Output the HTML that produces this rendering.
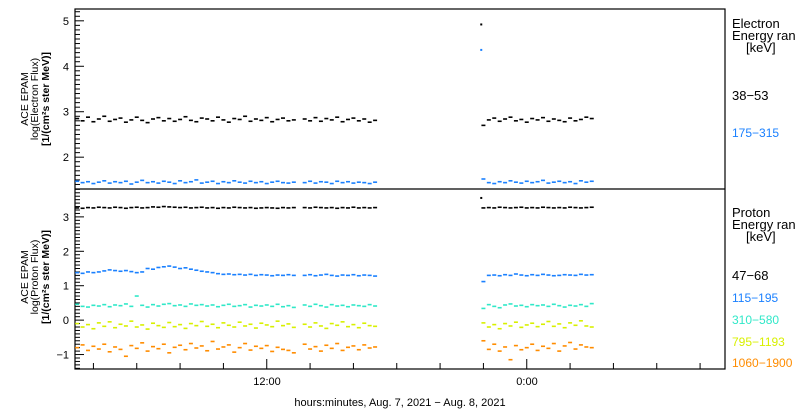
<!DOCTYPE html>
<html><head><meta charset="utf-8"><style>
body{margin:0;background:#fff;}
svg{display:block;font-family:"Liberation Sans",sans-serif;}
</style></head><body>
<svg id="chart" width="800" height="410" viewBox="0 0 800 410">
<g id="axes"></g><g id="marks"></g>
<g font-size="10.5" text-anchor="middle" transform="translate(44,99) rotate(-90)">
<text y="-16">ACE EPAM</text><text y="-6">log(Electron Flux)</text><text y="5" font-weight="bold">[1/(cm²s ster MeV)]</text></g>
<g font-size="10.5" text-anchor="middle" transform="translate(44,277) rotate(-90)">
<text y="-16">ACE EPAM</text><text y="-6">log(Proton Flux)</text><text y="5" font-weight="bold">[1/(cm²s ster MeV)]</text></g>
<g font-size="13">
<text x="732" y="28">Electron</text>
<text x="732" y="40">Energy ran</text>
<text x="746" y="52">[keV]</text>
<text x="732" y="100" fill="#000">38−53</text>
<text x="732" y="137" fill="#1a80ff" font-size="12">175−315</text>
<text x="732" y="217">Proton</text>
<text x="732" y="229">Energy ran</text>
<text x="746" y="241">[keV]</text>
<text x="732" y="280">47−68</text>
<text x="732" y="302" fill="#1a80ff" font-size="12">115−195</text>
<text x="732" y="324" fill="#30e8c8" font-size="12">310−580</text>
<text x="732" y="346" fill="#d8f000" font-size="12">795−1193</text>
<text x="732" y="367" fill="#ff8c00" font-size="12">1060−1900</text>
</g>
<text x="267" y="385" font-size="11" text-anchor="middle">12:00</text>
<text x="527" y="385" font-size="11" text-anchor="middle">0:00</text>
<text x="400" y="406" font-size="11" text-anchor="middle">hours:minutes, Aug.  7, 2021 − Aug.  8, 2021</text>
</svg>
<script>
// time in hours since Aug 7 00:00
const T = [3.25,3.5,3.75,4,4.25,4.5,4.75,5,5.25,5.5,5.75,6,6.25,6.5,6.75,7,7.25,7.5,7.75,8,8.25,8.5,8.75,9,9.25,9.5,9.75,10,10.25,10.5,10.75,11,11.25,11.5,11.75,12,12.25,12.5,12.75,13,13.25,
13.75,14,14.25,14.5,14.75,15,15.25,15.5,15.75,16,16.25,16.5,16.75,17,
22,22.25,22.5,22.75,23,23.25,23.5,23.75,24,24.25,24.5,24.75,25,25.25,25.5,25.75,26,26.25,26.5,26.75,27];
const e38 = [2.85,2.80,2.88,2.78,2.84,2.90,2.79,2.83,2.86,2.77,2.82,2.88,2.81,2.76,2.84,2.87,2.80,2.85,2.79,2.83,2.89,2.81,2.78,2.86,2.84,2.80,2.88,2.82,2.77,2.85,2.83,2.90,2.79,2.84,2.81,2.87,2.78,2.83,2.86,2.80,2.82,
2.84,2.80,2.87,2.79,2.85,2.82,2.88,2.78,2.83,2.86,2.80,2.84,2.77,2.81,
2.70,2.82,2.86,2.79,2.84,2.88,2.80,2.83,2.77,2.85,2.82,2.87,2.79,2.84,2.81,2.78,2.86,2.80,2.83,2.88,2.85];
const e175 = [1.47,1.44,1.46,1.42,1.45,1.48,1.43,1.46,1.44,1.47,1.41,1.45,1.49,1.44,1.46,1.43,1.47,1.45,1.42,1.48,1.44,1.46,1.50,1.43,1.45,1.47,1.42,1.46,1.44,1.48,1.45,1.43,1.47,1.44,1.46,1.42,1.45,1.47,1.44,1.43,1.45,
1.44,1.47,1.43,1.46,1.45,1.42,1.47,1.44,1.46,1.43,1.45,1.44,1.42,1.45,
1.52,1.44,1.42,1.46,1.44,1.48,1.45,1.43,1.47,1.44,1.46,1.49,1.43,1.45,1.47,1.44,1.46,1.42,1.48,1.45,1.47];
const p47 = [3.26,3.25,3.27,3.26,3.28,3.27,3.26,3.28,3.27,3.25,3.27,3.28,3.26,3.27,3.29,3.28,3.30,3.29,3.28,3.27,3.28,3.26,3.27,3.28,3.26,3.27,3.25,3.27,3.26,3.28,3.27,3.26,3.27,3.25,3.26,3.27,3.26,3.25,3.27,3.26,3.27,
3.27,3.26,3.28,3.27,3.26,3.27,3.25,3.27,3.26,3.28,3.26,3.27,3.26,3.27,
3.26,3.27,3.26,3.28,3.27,3.26,3.27,3.28,3.26,3.27,3.26,3.28,3.27,3.26,3.27,3.26,3.28,3.27,3.26,3.27,3.28];
const p115 = [1.38,1.36,1.40,1.38,1.40,1.43,1.46,1.44,1.42,1.44,1.41,1.38,1.40,1.50,1.48,1.53,1.55,1.57,1.54,1.50,1.52,1.48,1.45,1.42,1.40,1.38,1.35,1.33,1.34,1.32,1.33,1.31,1.33,1.30,1.32,1.31,1.29,1.31,1.30,1.32,1.30,
1.30,1.32,1.29,1.31,1.33,1.30,1.28,1.31,1.30,1.32,1.29,1.31,1.30,1.28,
1.12,1.30,1.31,1.29,1.32,1.30,1.34,1.31,1.29,1.32,1.30,1.33,1.31,1.29,1.30,1.32,1.31,1.30,1.33,1.31,1.32];
const p310 = [0.46,0.40,0.38,0.43,0.41,0.45,0.39,0.44,0.42,0.47,0.40,0.70,0.43,0.38,0.45,0.41,0.46,0.48,0.42,0.44,0.40,0.47,0.43,0.45,0.41,0.44,0.39,0.43,0.46,0.40,0.42,0.45,0.38,0.43,0.41,0.44,0.40,0.46,0.39,0.42,0.37,
0.44,0.40,0.46,0.42,0.38,0.45,0.41,0.43,0.39,0.44,0.42,0.40,0.45,0.41,
0.34,0.45,0.40,0.36,0.44,0.47,0.41,0.43,0.39,0.45,0.42,0.44,0.40,0.46,0.42,0.38,0.43,0.41,0.45,0.40,0.48];
const p795 = [-0.10,-0.20,-0.13,-0.25,-0.08,-0.18,-0.05,-0.22,-0.12,-0.17,-0.03,-0.20,-0.14,-0.26,-0.09,-0.16,-0.21,-0.07,-0.19,-0.13,-0.24,-0.10,-0.16,-0.04,-0.18,-0.12,-0.22,-0.08,-0.15,-0.20,-0.06,-0.17,-0.12,-0.23,-0.09,-0.14,-0.19,-0.03,-0.16,-0.11,-0.21,
-0.12,-0.20,-0.08,-0.17,-0.24,-0.10,-0.15,-0.05,-0.19,-0.13,-0.22,-0.09,-0.16,-0.18,
-0.08,-0.20,-0.13,-0.25,-0.10,-0.17,-0.06,-0.21,-0.14,-0.09,-0.19,-0.12,-0.04,-0.18,-0.11,-0.22,-0.08,-0.15,-0.02,-0.17,-0.20];
const p1060 = [-0.80,-0.72,-0.88,-0.76,-0.84,-0.70,-0.92,-0.78,-0.85,-1.05,-0.74,-0.82,-0.66,-0.90,-0.77,-0.83,-0.70,-0.95,-0.79,-0.73,-0.86,-0.68,-0.81,-0.75,-0.89,-0.62,-0.84,-0.78,-0.72,-0.93,-0.80,-0.68,-0.87,-0.76,-0.82,-0.74,-0.91,-0.79,-0.85,-0.88,-0.95,
-0.70,-0.84,-0.77,-0.90,-0.73,-0.82,-0.68,-0.88,-0.79,-0.75,-0.86,-0.72,-0.81,-0.78,
-0.60,-0.85,-0.70,-0.90,-0.78,-1.15,-0.74,-0.86,-0.80,-0.70,-0.88,-0.76,-0.82,-0.68,-0.90,-0.75,-0.65,-0.84,-0.72,-0.78,-0.80];
const outT = [21.9,21.9,21.9];
const outV = [4.92,4.36,3.55];
const tickHours = [4,6,8,10,12,14,16,18,20,22,24,26,28,30,32];

const NS='http://www.w3.org/2000/svg';
const X0=75,X1=725,T0=3.15,T1=33.15;
const x=t=>X0+(t-T0)/(T1-T0)*(X1-X0);
const TOP={y0:9,y1:189,min:1.3,max:5.26}, BOT={y0:189,y1:369,min:-1.42,max:3.81};
const yOf=(p,v)=>p.y1-(v-p.min)/(p.max-p.min)*(p.y1-p.y0);
const axes=document.getElementById('axes'), marks=document.getElementById('marks');
function mk(tag,attrs,parent){const e=document.createElementNS(NS,tag);for(const k in attrs)e.setAttribute(k,attrs[k]);parent.appendChild(e);return e;}

const frame=mk('rect',{x:X0,y:9,width:X1-X0,height:360,fill:'none',stroke:'#000','stroke-width':1.2},axes);


const mid=mk('line',{x1:X0,x2:X1,y1:189,y2:189,stroke:'#000','stroke-width':1.2},axes);



function yAxis(p,name){
  const g=mk('g',{},axes);
  
  
  const lo=Math.ceil(p.min*10),hi=Math.floor(p.max*10);
  for(let i=lo;i<=hi;i++){
    const yy=yOf(p,i/10), major=(i%10===0);
    mk('line',{x1:X0,x2:X0+(major?9:5),y1:yy,y2:yy,stroke:'#000','stroke-width':1},g);
    if(major){const t=mk('text',{x:X0-6,y:yy+4,'font-size':11,'text-anchor':'end'},g);t.textContent=(i<0?'−':'')+Math.abs(i/10);}
  }
}
yAxis(TOP,'top-y-axis');
yAxis(BOT,'bottom-y-axis');

const xg=mk('g',{},axes);


tickHours.forEach(h=>{const xx=x(h),lng=(h%12===0)?10:6;mk('line',{x1:xx,x2:xx,y1:369,y2:369-lng,stroke:'#000'},xg);});

function series(p,vals,color,name){
  const g=mk('g',{fill:color},marks);
  
  
  const n=Math.min(T.length,vals.length);
  for(let i=0;i<n;i++){
    mk('rect',{x:x(T[i])-2,y:yOf(p,vals[i])-0.8,width:4,height:1.6},g);
  }
}
series(TOP,e38,'#000','series-e-38-53');
series(TOP,e175,'#1a80ff','series-e-175-315');
series(BOT,p47,'#000','series-p-47-68');
series(BOT,p115,'#1a80ff','series-p-115-195');
series(BOT,p310,'#30e8c8','series-p-310-580');
series(BOT,p795,'#d8f000','series-p-795-1193');
series(BOT,p1060,'#ff8c00','series-p-1060-1900');
const og=mk('g',{},marks);


[[TOP,'#000'],[TOP,'#1a80ff'],[BOT,'#000']].forEach((c,i)=>{mk('rect',{x:x(outT[i])-1,y:yOf(c[0],outV[i])-1,width:2,height:2,fill:c[1]},og);});
</script>
</body></html>
